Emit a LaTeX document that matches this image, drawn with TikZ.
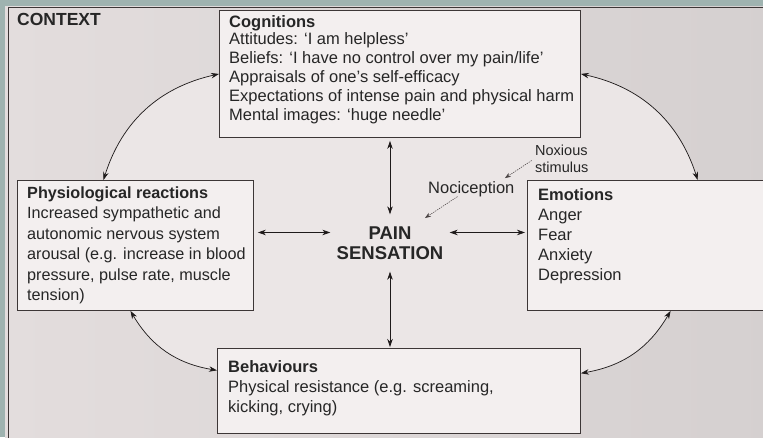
\documentclass[tikz,border=0pt]{standalone}
\usepackage{fontspec}
\setmainfont{Liberation Sans}
\usetikzlibrary{arrows.meta,calc,backgrounds}
\definecolor{bandc}{HTML}{9FB3B0}
\definecolor{pagec}{HTML}{EBE6E6}
\definecolor{shadel}{HTML}{E3DDDD}
\definecolor{shader}{HTML}{D5D0D0}
\definecolor{boxc}{HTML}{F3EFEF}
\definecolor{linec}{HTML}{3C3636}
\definecolor{arrc}{HTML}{1E1A1A}
\definecolor{dotc}{HTML}{4A4444}
\tikzset{
  box/.style={draw=linec, line width=0.9pt, fill=boxc, anchor=north west, inner sep=0pt, rectangle},
  txt/.style={anchor=base west, align=left, inner sep=0pt, text=black!85, font=\fontsize{16.5}{19}\selectfont},
  arr/.style={{Stealth[length=8pt,width=5.5pt]}-{Stealth[length=8pt,width=5.5pt]}, line width=0.7pt, draw=arrc},
  dotarr/.style={-{Stealth[length=6pt,width=4.5pt]}, line width=0.55pt, draw=dotc, dash pattern=on 1.3pt off 1pt},
}
\begin{document}
\begin{tikzpicture}[x=1pt,y=-1pt]
\useasboundingbox (0,0) rectangle (763,437);

% boxes
\node[box, minimum width=361pt, minimum height=127pt] (cog) at (219,10) {};
\node[box, minimum width=236pt, minimum height=130pt] (phys) at (17,180) {};
\node[box, minimum width=270pt, minimum height=130pt] (emo) at (527,180) {};
\node[box, minimum width=363pt, minimum height=85pt] (beh) at (217,348) {};

% attachment points of the curved connectors
\coordinate (p1) at ($(phys.north west)!0.365!(phys.north east)$);
\coordinate (p2) at ($(phys.south west)!0.479!(phys.south east)$);
\coordinate (p3) at ($(beh.north west)!0.26!(beh.south west)$);
\coordinate (p4) at ($(beh.north east)!0.294!(beh.south east)$);
\coordinate (p5) at ($(emo.south west)!0.53!(emo.south east)$);
\coordinate (p6) at ($(emo.north west)!0.63!(emo.north east)$);

% page background, scan band and lighter inner region
\begin{scope}[on background layer]
\clip (0,0) rectangle (763,437);
\fill[bandc] (0,0) rectangle (763,437);
\shade[left color=shadel, right color=shader] (5,6) rectangle (780,445);
\fill[pagec] (cog.west) to[bend right=30] (p1) -- (p2) to[bend right=25] (p3) -- (p4)
  to[bend right=25] (p5) -- (p6) to[bend right=30] (cog.east) -- cycle;
\draw[linec, line width=1pt] (8,7) rectangle (790,450);
\end{scope}

% texts (anchored at the baseline of their last line)
\node[txt, font=\fontsize{17.5}{20}\selectfont\bfseries] (ctx) at (17,25) {CONTEXT};
\node[txt] (cogt) at (229,120) {\textbf{Cognitions}\\[-2pt]
Attitudes: ‘I am helpless’\\
Beliefs: ‘I have no control over my pain/life’\\
Appraisals of one’s self-efficacy\\
Expectations of intense pain and physical harm\\
Mental images: ‘huge needle’};
\node[txt, font=\fontsize{16.2}{20.5}\selectfont] (physt) at (27,300.5) {\textbf{Physiological reactions}\\
Increased sympathetic and\\
autonomic nervous system\\
arousal (e.g. increase in blood\\
pressure, pulse rate, muscle\\
tension)};
\node[txt, font=\fontsize{16.5}{20}\selectfont] (emot) at (538,280) {\textbf{Emotions}\\
Anger\\
Fear\\
Anxiety\\
Depression};
\node[txt, font=\fontsize{16.5}{20}\selectfont] (beht) at (228,412) {\textbf{Behaviours}\\
Physical resistance (e.g. screaming,\\
kicking, crying)};

\node[draw=none, align=center, inner sep=0pt, minimum width=119pt, minimum height=57pt,
      font=\fontsize{18.5}{20.5}\selectfont\bfseries, text=black!85] (pain) at (390,243) {PAIN\\SENSATION};

\node[txt, font=\fontsize{14.5}{17}\selectfont] (nox) at (535,172) {Noxious\\stimulus};
\node[txt] (noci) at (428,193) {Nociception};
\coordinate (noctip) at (425,218);

% straight arrows
\draw[arr, shorten >=3pt] (pain.north) -- (pain.north |- cog.south);
\draw[arr, shorten >=1pt] (pain.south) -- (pain.south |- beh.north);
\draw[arr, shorten <=4pt] (phys.east |- pain.170) -- (pain.170);
\draw[arr, shorten >=2pt] (pain.10) -- (emo.west |- pain.10);

% curved arrows
\draw[arr] (cog.west) to[bend right=30] (p1);
\draw[arr] (cog.east) to[bend left=30] (p6);
\draw[arr] (p2) to[bend right=25] (p3);
\draw[arr] (p4) to[bend right=25] (p5);

% dotted arrows
\draw[dotarr, shorten <=4pt, shorten >=5pt] (nox.west) -- ($(noci.north west)!0.84!(noci.north east)$);
\draw[dotarr] ($(noci.south west)!0.34!(noci.south east)$) -- (noctip);
\end{tikzpicture}
\end{document}
